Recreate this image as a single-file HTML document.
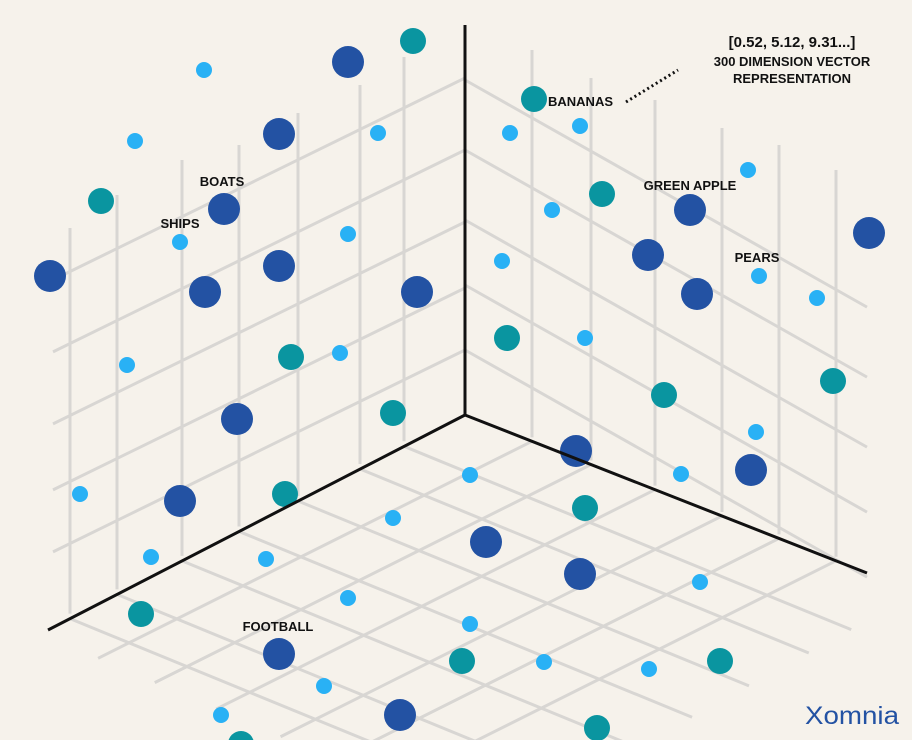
<!DOCTYPE html><html><head><style>body{margin:0;background:#f6f2eb;overflow:hidden}svg{display:block}text{font-family:"Liberation Sans",sans-serif;font-weight:bold;fill:#111}</style></head><body>
<svg width="912" height="740" viewBox="0 0 912 740">
<rect width="912" height="740" fill="#f6f2eb"/>
<g stroke="#d8d6d3" stroke-width="3" fill="none" id="g"></g>
<g id="d"></g>
<g stroke="#111" stroke-width="3" fill="none">
<line x1="465" y1="25" x2="465" y2="415"/><line x1="465" y1="415" x2="48" y2="630"/><line x1="465" y1="415" x2="867" y2="573"/></g>
<line x1="626" y1="102" x2="678" y2="70" stroke="#111" stroke-width="3" stroke-dasharray="2 3"/>
<text x="222" y="186" font-size="13" text-anchor="middle">BOATS</text>
<text x="180" y="228" font-size="13" text-anchor="middle">SHIPS</text>
<text x="278" y="631" font-size="13" text-anchor="middle">FOOTBALL</text>
<text x="548" y="106" font-size="13">BANANAS</text>
<text x="690" y="190" font-size="13" text-anchor="middle">GREEN APPLE</text>
<text x="757" y="262" font-size="13" text-anchor="middle">PEARS</text>
<text x="792" y="47" font-size="15" text-anchor="middle">[0.52, 5.12, 9.31...]</text>
<text x="792" y="66" font-size="13" text-anchor="middle">300 DIMENSION VECTOR</text>
<text x="792" y="83" font-size="13" text-anchor="middle">REPRESENTATION</text>
<text x="805" y="724" font-size="25" textLength="94" lengthAdjust="spacingAndGlyphs" style="font-weight:normal;fill:#2352a3">Xomnia</text>
</svg>
<script>
const g=document.getElementById('g'),d=document.getElementById('d'),NS='http://www.w3.org/2000/svg';
function L(a,b,c,e){const l=document.createElementNS(NS,'line');l.setAttribute('x1',a);l.setAttribute('y1',b);l.setAttribute('x2',c);l.setAttribute('y2',e);g.appendChild(l);}
const LV=[[70,228],[117,195],[182,160],[239,145],[298,113],[360,85],[404,57]];
const RV=[[532,50],[591,78],[655,100],[722,128],[779,145],[836,170]];
LV.forEach(([x,t])=>L(x,t,x,630-(x-48)*0.516-5));
[78,150,222,288,350].forEach(y=>L(465,y,53,y+0.49*412));
RV.forEach(([x,t])=>L(x,t,x,415+(x-465)*0.393-4));
[80,150,220,285,350].forEach(y=>L(465,y,867,y+0.565*402));
// floor: down-right from left feet, slope .41, ending at far boundary y=632-0.55(x-847)
LV.forEach(([x])=>{const y=630-(x-48)*0.516;const ex=(632+0.55*847-y+0.41*x)/0.96;L(x,y,ex,y+0.41*(ex-x));});
// floor: up-right from right feet, slope -0.5 going right, ending at near boundary y=660+0.43(x-102)
RV.forEach(([x])=>{const y=415+(x-465)*0.393;const sx=(y+0.5*x-616.1)/0.93;L(sx,y+0.5*(x-sx),x,y);});
const C={D:['#2352a3',16],T:['#0a95a0',13],L:['#29b1f5',8]};
`L204,70 D348,62 T413,41 L135,141 D279,134 L378,133 T101,201 D224,209 L180,242 D50,276 D205,292 D279,266 L348,234 D417,292 L127,365 T291,357 L340,353 T393,413 D237,419 L80,494 D180,501 T285,494 L151,557 L266,559 T141,614 L348,598 D279,654 L324,686 L221,715 D400,715 T241,744 T534,99 L510,133 L580,126 L748,170 T602,194 L552,210 D690,210 D869,233 D648,255 L502,261 L759,276 D697,294 L817,298 T507,338 L585,338 T664,395 T833,381 L756,432 D576,451 D751,470 L681,474 L470,475 T585,508 L393,518 D486,542 D580,574 L700,582 L470,624 T462,661 L544,662 L649,669 T720,661 T597,728`.split(' ').forEach(s=>{const [x,y]=s.slice(1).split(',');const c=document.createElementNS(NS,'circle');c.setAttribute('cx',x);c.setAttribute('cy',y);c.setAttribute('r',C[s[0]][1]);c.setAttribute('fill',C[s[0]][0]);d.appendChild(c);});
</script>
</body></html>
